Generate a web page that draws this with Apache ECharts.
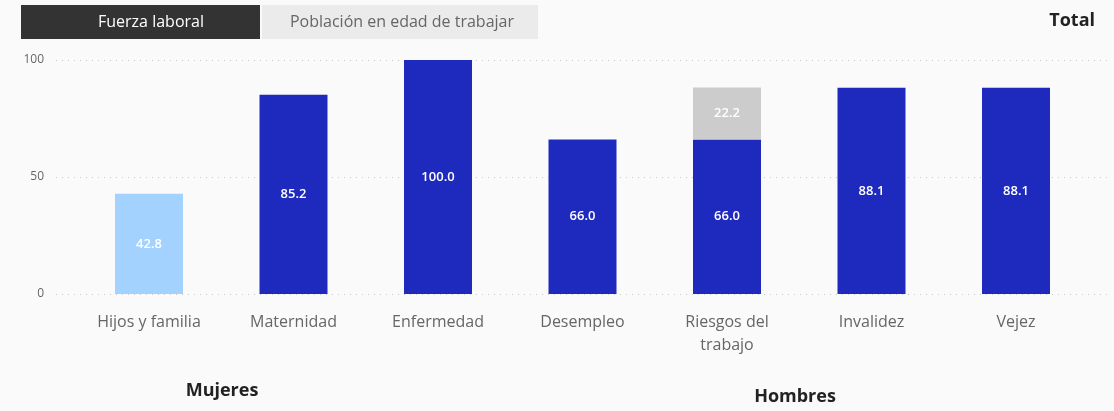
<!DOCTYPE html>
<html>
<head>
<meta charset="utf-8">
<script src="https://cdn.jsdelivr.net/npm/echarts@6/dist/echarts.min.js"></script>
<style>
  html, body { margin: 0; padding: 0; background: #fafafa; }
  #chart { width: 1114px; height: 411px; }
</style>
</head>
<body>
<div id="chart"></div>
<script>
// datos
const categories = ['Hijos y familia', 'Maternidad', 'Enfermedad', 'Desempleo', 'Riesgos del\ntrabajo', 'Invalidez', 'Vejez'];
const baseValues = [42.8, 85.2, 100.0, 66.0, 66.0, 88.1, 88.1];
const extraValues = [null, null, null, null, 22.2, null, null];
const yTicks = [0, 50, 100];
const groupLabels = ['Mujeres', 'Hombres'];

const font = '"Open Sans", "Noto Sans", sans-serif';
const blue = '#1e2abd';
const lightBlue = '#a3d2ff';

const chart = echarts.init(document.getElementById('chart'));

const barLabel = {
    show: true,
    position: 'inside',
    color: '#fff',
    fontSize: 13,
    fontWeight: 600,
    fontFamily: font,
    formatter: p => p.value == null ? '' : p.value.toFixed(1)
};

const option = {
    backgroundColor: '#fafafa',
    textStyle: { fontFamily: font },
    grid: [
        // solo para las lineas de fondo y eje y
        { left: 56, right: 6, top: 60, bottom: 117 },
        // barras
        { left: 76.75, right: 25.75, top: 60, bottom: 117 }
    ],
    xAxis: [
        { gridIndex: 0, type: 'category', data: categories, show: false },
        {
            gridIndex: 1,
            type: 'category',
            data: categories,
            axisLine: { show: false },
            axisTick: { show: false },
            axisLabel: {
                color: '#666',
                fontSize: 16,
                margin: 17,
                lineHeight: 23,
                interval: 0,
                fontFamily: font
            }
        }
    ],
    yAxis: [
        {
            gridIndex: 0,
            type: 'value',
            min: yTicks[0],
            max: yTicks[yTicks.length - 1],
            interval: 50,
            axisLine: { show: false },
            axisTick: { show: false },
            axisLabel: { color: '#666', fontSize: 12, margin: 12, fontFamily: font },
            splitLine: { lineStyle: { color: '#c8c8c8', type: [1, 5], width: 1 } }
        },
        {
            gridIndex: 1,
            type: 'value',
            min: yTicks[0],
            max: yTicks[yTicks.length - 1],
            interval: 50,
            show: false,
            splitLine: { show: false }
        }
    ],
    series: [
        {
            type: 'bar',
            xAxisIndex: 1,
            yAxisIndex: 1,
            stack: 'total',
            barWidth: 68,
            data: baseValues.map((v, i) => ({
                value: v,
                itemStyle: { color: i === 0 ? lightBlue : blue }
            })),
            label: barLabel
        },
        {
            type: 'bar',
            xAxisIndex: 1,
            yAxisIndex: 1,
            stack: 'total',
            barWidth: 68,
            itemStyle: { color: '#cccccc' },
            data: extraValues,
            label: barLabel
        }
    ],
    graphic: [
        { type: 'rect', x: 21, y: 5, shape: { width: 239, height: 34 }, style: { fill: '#333333' } },
        { type: 'text', x: 151, y: 22, style: { text: 'Fuerza laboral', fill: '#fff', font: '16px ' + font, align: 'center', verticalAlign: 'middle' } },
        { type: 'rect', x: 262, y: 5, shape: { width: 276, height: 34 }, style: { fill: '#ebebeb' } },
        { type: 'text', x: 402, y: 22, style: { text: 'Población en edad de trabajar', fill: '#666', font: '16px ' + font, align: 'center', verticalAlign: 'middle' } },
        { type: 'text', x: 1095, y: 21, style: { text: 'Total', fill: '#222', font: 'bold 18px ' + font, align: 'right', verticalAlign: 'middle' } },
        { type: 'text', x: 222, y: 391, style: { text: groupLabels[0], fill: '#222', font: 'bold 18px ' + font, align: 'center', verticalAlign: 'middle' } },
        { type: 'text', x: 795, y: 397, style: { text: groupLabels[1], fill: '#222', font: 'bold 18px ' + font, align: 'center', verticalAlign: 'middle' } }
    ]
};

chart.setOption(option);
</script>
</body>
</html>
